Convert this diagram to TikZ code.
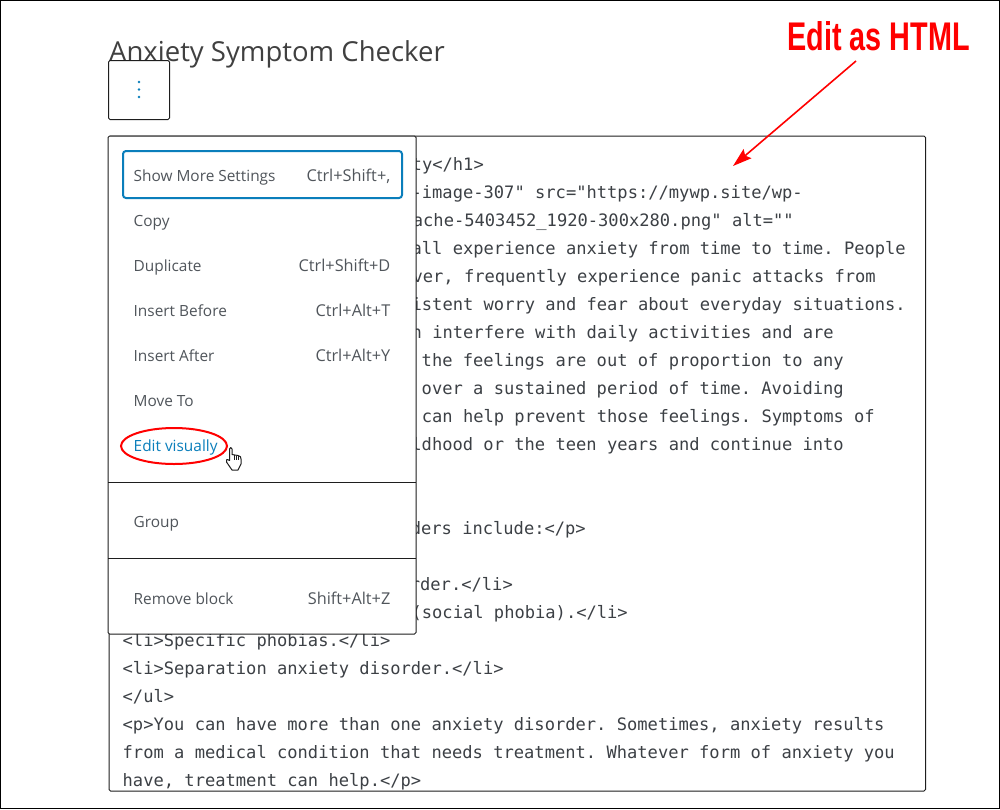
\documentclass[tikz,border=0pt]{standalone}
\usepackage{fontspec}
\setmainfont{Open Sans}
\setmonofont{DejaVu Sans Mono}
\newfontfamily\notefont[FakeStretch=0.72]{Liberation Sans Bold}
\usetikzlibrary{arrows.meta}
\definecolor{wpblue}{HTML}{0A7EBB}
\definecolor{menugrey}{HTML}{50555B}
\definecolor{codegrey}{HTML}{3C4045}
\definecolor{linedark}{HTML}{1E1E1E}
\tikzset{
	codeline/.style={anchor=base east,inner sep=0pt,text=codegrey,font=\ttfamily\fontsize{17.1}{20}\selectfont},
	codestart/.style={anchor=base west,inner sep=0pt,text=codegrey,font=\ttfamily\fontsize{17.1}{20}\selectfont},
	menuitem/.style={anchor=base west,inner sep=0pt,text=menugrey,font=\fontsize{15.4}{18}\selectfont},
	menukey/.style={anchor=base east,inner sep=0pt,text=menugrey,font=\fontsize{16.3}{18}\selectfont},
	panel/.style={draw=linedark,line width=1pt,fill=white,rounded corners=1.5pt},
}
\begin{document}
\begin{tikzpicture}[x=1pt,y=-1pt]
	\useasboundingbox (0,0) rectangle (1000,809);
	\draw[black,line width=1pt] (0.5,0.5) rectangle (999.5,808.5);
	\node[anchor=base west,inner sep=0pt,text=linedark!85,font=\fontsize{27.5}{32}\selectfont] (title) at (109,61) {Anxiety Symptom Checker};
	% toolbar button
	\node[panel,minimum width=61pt,minimum height=59pt,inner sep=0pt] (button) at (139,90) {};
	\fill[wpblue] (139,82) circle (1.4) (139,89.5) circle (1.4) (139,97) circle (1.4);
	% html source
	\node[panel,anchor=north west,minimum width=816.5pt,minimum height=655pt,inner sep=0pt] (code) at (108.5,135.5) {};
	\node[codeline] (l1) at (484,170) {ty</h1>};
	\node[codeline] (l2) at (803,198) {-image-307" src="https://mywp.site/wp-};
	\node[codeline] (l3) at (794,226) {ache-5403452\_1920-300x280.png" alt=""};
	\node[codeline] (l4) at (906,254) {all experience anxiety from time to time. People};
	\node[codeline] (l5) at (876,282) {ver, frequently experience panic attacks from};
	\node[codeline] (l6) at (906,310) {istent worry and fear about everyday situations.};
	\node[codeline] (l7) at (834,338) {n interfere with daily activities and are};
	\node[codeline] (l8) at (844,366) {the feelings are out of proportion to any};
	\node[codeline] (l9) at (844,394) {over a sustained period of time. Avoiding};
	\node[codeline] (l10) at (875,422) {can help prevent those feelings. Symptoms of};
	\node[codeline] (l11) at (844,450) {ldhood or the teen years and continue into};
	\node[codeline] (l12) at (586,534) {ders include:</p>};
	\node[codeline] (l13) at (513,590) {rder.</li>};
	\node[codeline] (l14) at (628,618) {(social phobia).</li>};
	\node[codestart] (l15) at (122.5,674) {<li>Separation anxiety disorder.</li>};
	\node[codestart] (l16) at (122.5,702) {</ul>};
	\node[codestart] (l17) at (122.5,730) {<p>You can have more than one anxiety disorder. Sometimes, anxiety results};
	\node[codestart] (l18) at (122.5,758) {from a medical condition that needs treatment. Whatever form of anxiety you};
	\node[codestart] (l19) at (122.5,786) {have, treatment can help.</p>};
	\node[codestart] (l20) at (122.5,646) {<li>Specific phobias.</li>};
	% dropdown menu
	\node[panel,anchor=north west,minimum width=308pt,minimum height=498pt,inner sep=0pt] (menu) at (107.5,135.5) {};
	\node[draw=wpblue,line width=2pt,rounded corners=3pt,minimum width=279pt,minimum height=47pt,inner sep=0pt] (focus) at (262.5,174.5) {};
	\node[menuitem] (show) at (133.5,181) {Show More Settings};
	\node[menukey] (showkey) at (390.5,181) {Ctrl+Shift+,};
	\node[menuitem] (copy) at (133.5,226) {Copy};
	\node[menuitem] (dup) at (133.5,271) {Duplicate};
	\node[menukey] (dupkey) at (390.5,271) {Ctrl+Shift+D};
	\node[menuitem] (before) at (133.5,316) {Insert Before};
	\node[menukey] (beforekey) at (390.5,316) {Ctrl+Alt+T};
	\node[menuitem] (after) at (133.5,361) {Insert After};
	\node[menukey] (afterkey) at (390.5,361) {Ctrl+Alt+Y};
	\node[menuitem] (move) at (133.5,406) {Move To};
	\node[menuitem,text=wpblue] (visual) at (133.5,451) {Edit visually};
	\node[menuitem] (group) at (133.5,527) {Group};
	\node[menuitem] (remove) at (133.5,604) {Remove block};
	\node[menukey] (removekey) at (390.5,604) {Shift+Alt+Z};
	\coordinate (sepa) at (108,482.5);
	\coordinate (sepb) at (415.5,482.5);
	\coordinate (sepc) at (108,558.5);
	\coordinate (sepd) at (415.5,558.5);
	\draw[linedark] (sepa) -- (sepb);
	\draw[linedark] (sepc) -- (sepd);
	% callouts
	\draw[red,line width=2pt] (174,446) ellipse (53 and 18);
	\node[anchor=base east,inner sep=0pt,text=red,font=\notefont\fontsize{40}{44}\selectfont] (note) at (970,50) {Edit as HTML};
	\coordinate (tail) at (856,61);
	\coordinate (tip) at (733,166);
	\draw[red,line width=1.6pt,-{Stealth[length=19pt,width=12pt,inset=3pt]}] (tail) -- (tip);
	% hand cursor
	\draw[fill=white,draw=linedark,line width=1pt,line join=round] (229.5,449) .. controls (229.5,447) and (232,447) .. (232,449) -- (232,454.5) -- (238,455.5) .. controls (240.5,456) and (241,457) .. (241,459) -- (241,464) -- (238,470) -- (232,470) -- (226.5,462) .. controls (225.5,460) and (227,458.5) .. (229.5,460.5) -- cycle;
	\draw[linedark,line width=0.7pt] (234,455) -- (234,460) (236.3,455.5) -- (236.3,460) (238.6,456) -- (238.6,460);
\end{tikzpicture}
\end{document}
